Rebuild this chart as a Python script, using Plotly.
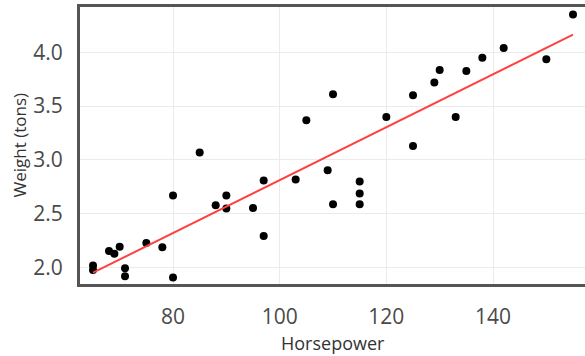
import numpy as np
import plotly.graph_objects as go

# Car horsepower vs. weight
horsepower = [65, 65, 68, 69, 70, 71, 71, 75, 78, 80, 80, 85, 88, 90, 90, 95, 97, 97,
              103, 105, 109, 110, 110, 115, 115, 115, 120, 125, 125, 129, 130, 133,
              135, 138, 142, 150, 155]
weight_tons = [2.02, 1.98, 2.155, 2.13, 2.195, 1.995, 1.92, 2.23, 2.19, 2.67, 1.91,
               3.07, 2.58, 2.67, 2.55, 2.555, 2.295, 2.81, 2.82, 3.37, 2.905, 3.61,
               2.59, 2.80, 2.69, 2.59, 3.40, 3.60, 3.13, 3.72, 3.835, 3.40, 3.825,
               3.95, 4.04, 3.935, 4.35]

x_ticks = [80, 100, 120, 140]
y_ticks = [2.0, 2.5, 3.0, 3.5, 4.0]

# least-squares trend line across the observed horsepower span
slope, intercept = np.polyfit(horsepower, weight_tons, 1)
fit_x = [min(horsepower), max(horsepower)]
fit_y = [intercept + slope * v for v in fit_x]

FONT = "Open Sans"

fig = go.Figure()
fig.add_trace(go.Scatter(
    x=horsepower, y=weight_tons, mode="markers",
    marker=dict(color="black", size=8),
    showlegend=False, hoverinfo="skip",
))
fig.add_trace(go.Scatter(
    x=fit_x, y=fit_y, mode="lines",
    line=dict(color="#ff4040", width=2),
    showlegend=False, hoverinfo="skip",
))

fig.update_layout(
    width=585, height=356,
    margin=dict(l=80, r=0, t=7, b=72),
    paper_bgcolor="white", plot_bgcolor="white",
    font=dict(family=FONT, color="#4a4a4a"),
    xaxis=dict(
        range=[62.56, 157.25], tickvals=x_ticks,
        showgrid=True, gridcolor="#ebebeb", gridwidth=1, zeroline=False,
        showline=True, linecolor="#555555", linewidth=3, mirror=True,
        ticks="", tickfont=dict(size=21, color="#4a4a4a"),
        ticklabelstandoff=12,
    ),
    yaxis=dict(
        range=[1.849, 4.42], tickvals=y_ticks, tickformat=".1f",
        showgrid=True, gridcolor="#ebebeb", gridwidth=1, zeroline=False,
        showline=True, linecolor="#555555", linewidth=3, mirror=False,
        ticks="", tickfont=dict(size=21, color="#4a4a4a"),
        ticklabelstandoff=10,
    ),
    annotations=[
        dict(text="Horsepower", xref="paper", yref="paper", x=0.5, y=0,
             xanchor="center", yanchor="middle", yshift=-59, showarrow=False,
             font=dict(family=FONT, size=18, color="#333333")),
        dict(text="Weight (tons)", xref="paper", yref="paper", x=0, y=0.5,
             xanchor="center", yanchor="middle", xshift=-61, textangle=-90,
             showarrow=False, font=dict(family=FONT, size=17, color="#333333")),
    ],
)

fig.write_html("out.html")
